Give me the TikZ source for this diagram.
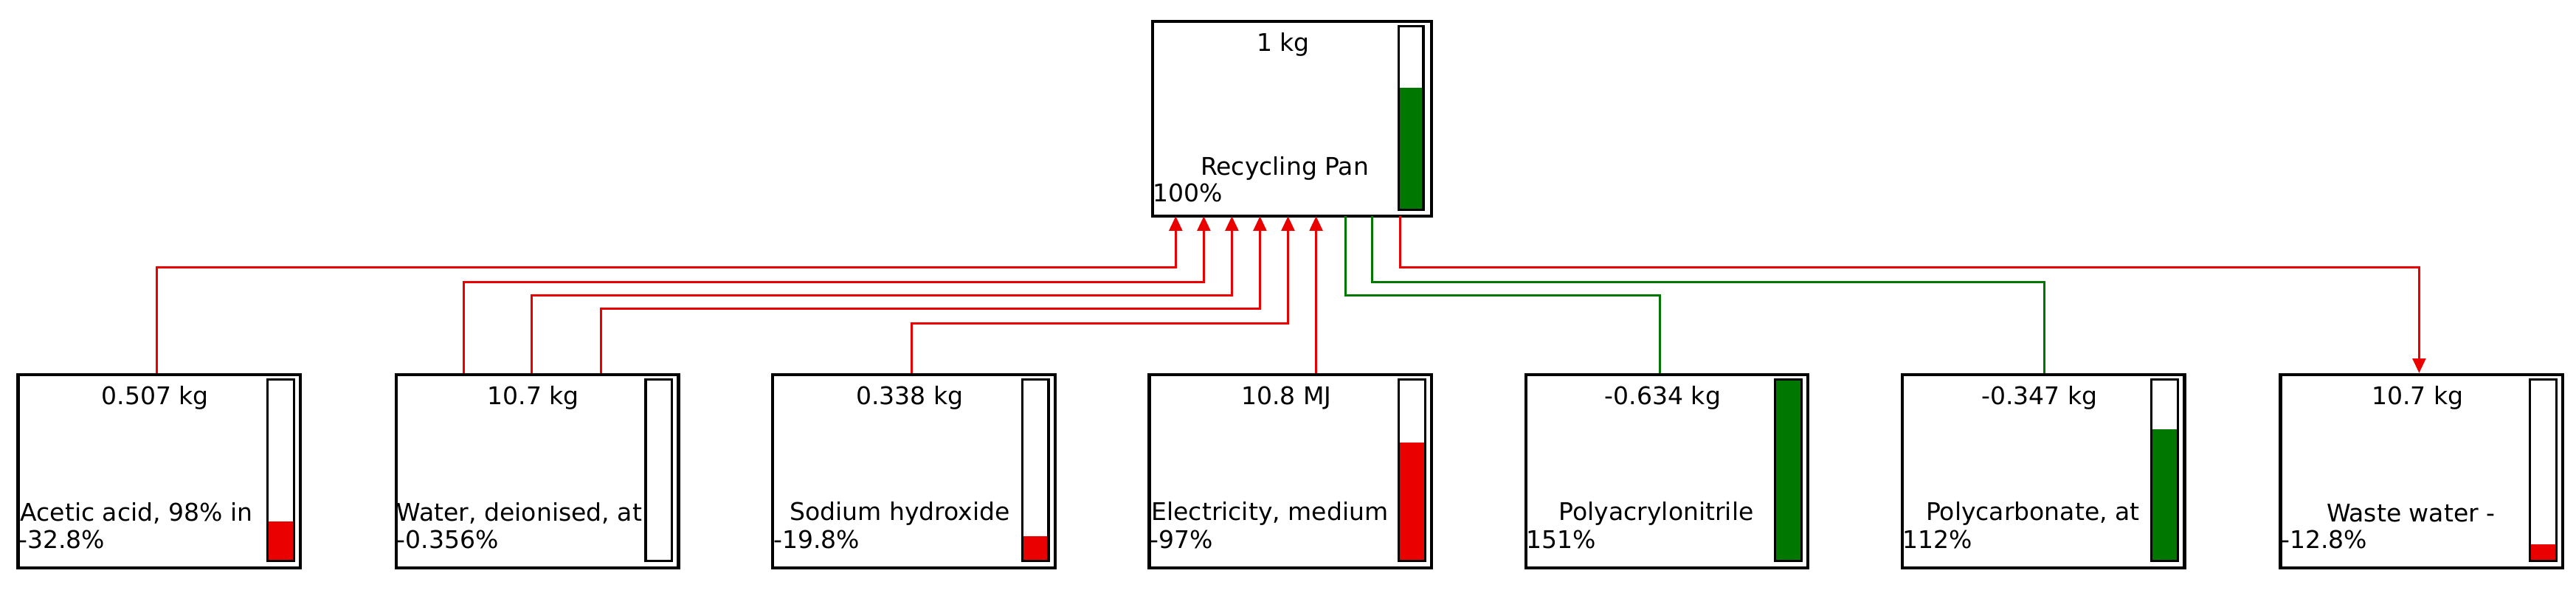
\documentclass[tikz,border=0pt]{standalone}
\usepackage{fontspec}
\setmainfont{DejaVu Sans}
\usetikzlibrary{calc,arrows.meta}
\definecolor{gr}{RGB}{0,120,0}
\definecolor{rd}{RGB}{235,0,0}
\tikzset{
 box/.style={draw=black,line width=1.1pt,fill=white,inner sep=0pt,minimum width=3.42cm,minimum height=2.34cm,anchor=north west},
 bar/.style={draw=black,line width=0.8pt},
 txt/.style={font=\fontsize{8.4}{9}\selectfont,inner sep=0pt},
 rl/.style={draw=rd,line width=0.75pt},
 gl/.style={draw=gr,line width=0.75pt},
 arr/.style={-{Triangle[length=5pt,width=4.5pt]}}
}
\newcommand\pbox[9]{%
 \node[box] (#1) at (#2,226) {};
 \fill[#7] (#2+152,#6) rectangle (#2+168,340);
 \draw[bar] (#2+152,230) rectangle (#2+168,340);
 \node[txt] (#1v) at (#2+84,241) {#3};
 \node[txt,anchor=#8] (#1n) at (#2+#9,311) {#4};
 \node[txt,anchor=west] (#1p) at (#2+1,327) {#5};
}
\begin{document}
\begin{tikzpicture}[x=0.02cm,y=-0.02cm]
\useasboundingbox (0,0) rectangle (1560,359);
\node[box,minimum width=3.38cm,minimum height=2.36cm] (top) at (697,12) {};
\fill[gr] (847,53) rectangle (862,127);
\draw[bar] (847,16) rectangle (862,127);
\node[txt] (topv) at (777,27) {1 kg};
\node[txt] (topn) at (778,102) {Recycling Pan};
\node[txt,anchor=west] (topp) at (698,117) {100\%};
\pbox{b1}{10}{0.507 kg}{Acetic acid, 98\% in}{-32.8\%}{316}{rd}{west}{2}
\pbox{b2}{239}{10.7 kg}{Water, deionised, at}{-0.356\%}{340}{rd}{west}{1}
\pbox{b3}{467}{0.338 kg}{Sodium hydroxide}{-19.8\%}{325}{rd}{center}{78}
\pbox{b4}{695}{10.8 MJ}{Electricity, medium}{-97\%}{268}{rd}{west}{2}
\pbox{b5}{923}{-0.634 kg}{Polyacrylonitrile}{151\%}{230}{gr}{center}{80}
\pbox{b6}{1151}{-0.347 kg}{Polycarbonate, at}{112\%}{260}{gr}{center}{80}
\pbox{b7}{1380}{10.7 kg}{Waste water -}{-12.8\%}{330}{rd}{center}{80}
\coordinate (t1) at (712,131); \coordinate (t2) at (729,131); \coordinate (t3) at (746,131);
\coordinate (t4) at (763,131); \coordinate (t5) at (780,131); \coordinate (t6) at (797,131);
\coordinate (g1) at (815,131); \coordinate (g2) at (831,131); \coordinate (r1) at (848,131);
\draw[rl,arr] ($(b1.north west)+(85,0)$) |- (712,162) -- (t1);
\draw[rl,arr] ($(b2.north west)+(42,0)$) |- (729,171) -- (t2);
\draw[rl,arr] ($(b2.north west)+(83,0)$) |- (746,179) -- (t3);
\draw[rl,arr] ($(b2.north west)+(125,0)$) |- (763,187) -- (t4);
\draw[rl,arr] ($(b3.north west)+(85,0)$) |- (780,196) -- (t5);
\draw[rl,arr] (t6 |- b4.north) -- (t6);
\draw[gl] (g1) |- (1005,179) -- ($(b5.north west)+(82,0)$);
\draw[gl] (g2) |- (1238,171) -- ($(b6.north west)+(87,0)$);
\draw[rl,arr] (r1) |- (1465,162) -- ($(b7.north west)+(85,0)$);
\end{tikzpicture}
\end{document}
